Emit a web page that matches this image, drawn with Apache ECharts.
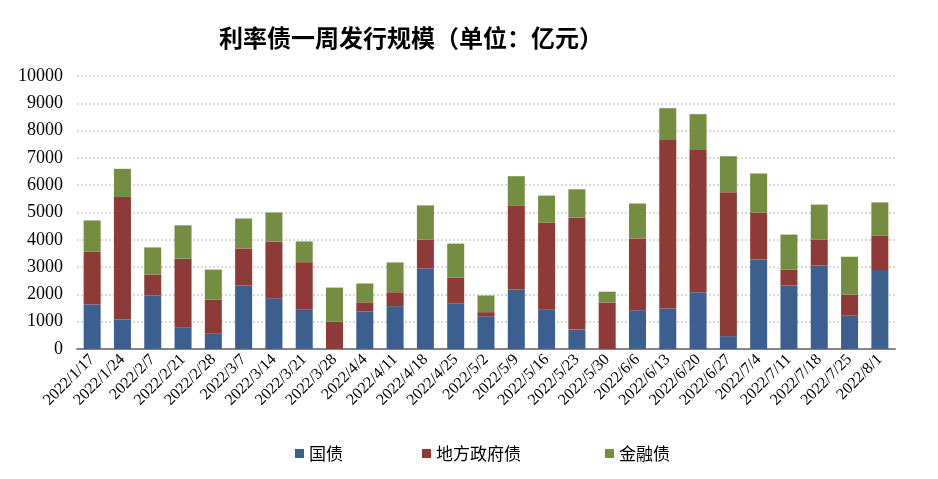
<!DOCTYPE html>
<html>
<head>
<meta charset="utf-8">
<script src="https://cdn.jsdelivr.net/npm/echarts@6/dist/echarts.min.js"></script>
<style>
html,body{margin:0;padding:0;background:#fff;}
#chart{width:938px;height:479px;}
</style>
</head>
<body>
<div id="chart"></div>
<script>
const categories = ["2022/1/17","2022/1/24","2022/2/7","2022/2/21","2022/2/28","2022/3/7","2022/3/14","2022/3/21","2022/3/28","2022/4/4","2022/4/11","2022/4/18","2022/4/25","2022/5/2","2022/5/9","2022/5/16","2022/5/23","2022/5/30","2022/6/6","2022/6/13","2022/6/20","2022/6/27","2022/7/4","2022/7/11","2022/7/18","2022/7/25","2022/8/1"];
const guozhai = [1630,1080,1960,780,560,2320,1860,1440,0,1370,1570,2960,1660,1200,2180,1440,710,0,1420,1490,2080,470,3280,2320,3060,1220,2890];
const difang = [1940,4490,770,2530,1250,1360,2080,1740,1000,340,510,1050,950,150,3060,3190,4110,1700,2630,6190,5210,5270,1720,590,950,770,1270];
const jinrong = [1140,1030,990,1220,1100,1100,1060,760,1250,690,1090,1250,1250,610,1090,990,1030,400,1280,1140,1310,1320,1430,1280,1280,1390,1210];
const seriesNames = ["国债","地方政府债","金融债"];
const yTicks = [0,1000,2000,3000,4000,5000,6000,7000,8000,9000,10000];

const colors = ["#3B5F8F","#8E3A37","#758D41"];
const serif = "'Liberation Serif','Times New Roman',serif";
const cjk = "'Noto Sans CJK SC','Noto Sans',sans-serif";

const chart = echarts.init(document.getElementById('chart'), null, {renderer:'canvas'});
const legendPos = [290, 417, 600];
const option = {
  backgroundColor: '#fff',
  animation: false,
  title: {
    text: '利率债一周发行规模（单位：亿元）',
    left: 406, top: 21, textAlign: 'center',
    textStyle: {fontFamily: cjk, fontSize: 24, fontWeight: 'bold', color: '#000'}
  },
  legend: seriesNames.map((n, i) => ({
    data: [n], left: legendPos[i], top: 440,
    icon: 'rect', itemWidth: 9, itemHeight: 9, itemGap: 6,
    textStyle: {fontFamily: cjk, fontSize: 17, color: '#000'},
    selectedMode: false
  })),
  grid: {left: 77, right: 43, top: 76, bottom: 130, containLabel: false},
  xAxis: {
    type: 'category', data: categories,
    axisLine: {lineStyle: {color: '#868686', width: 2}},
    axisTick: {show: false},
    axisLabel: {rotate: 45, interval: 0, margin: 8, fontFamily: serif, fontSize: 16, color: '#000'}
  },
  yAxis: {
    type: 'value', min: yTicks[0], max: yTicks[yTicks.length-1], interval: 1000,
    axisLine: {show: false}, axisTick: {show: false},
    axisLabel: {fontFamily: serif, fontSize: 18, color: '#000', margin: 14, formatter: v => String(v)},
    splitLine: {lineStyle: {color: '#D9D9D9', type: 'dotted', width: 2}}
  },
  series: seriesNames.map((n, i) => ({
    name: n, type: 'bar', stack: 'total',
    data: [guozhai, difang, jinrong][i],
    barWidth: 17,
    itemStyle: {color: colors[i]}
  }))
};
chart.setOption(option);
</script>
</body>
</html>
